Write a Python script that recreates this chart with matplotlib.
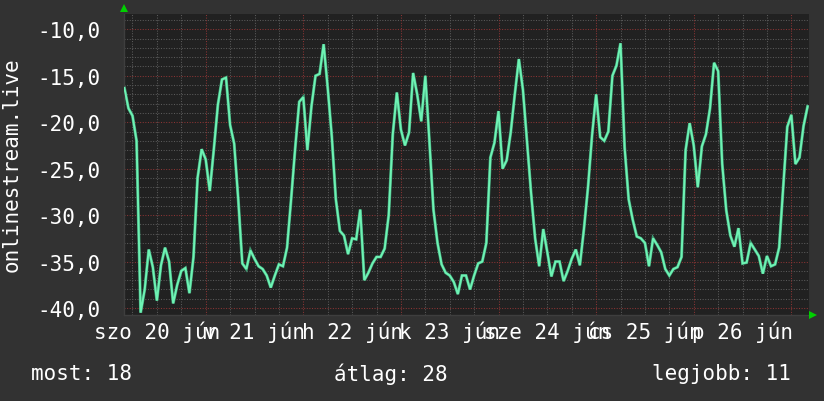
import matplotlib
matplotlib.use("Agg")
import matplotlib.pyplot as plt
import numpy as np
from matplotlib.ticker import MultipleLocator, FuncFormatter
import matplotlib.transforms as mtrans

# hours since 2020-06-20 00:00, hourly samples
hours = list(range(4, 173))
values = [
    -16.3, -18.5, -19.3, -22.0, -40.5, -38.0, -33.7, -35.6, -39.2, -35.4,
    -33.5, -35.0, -39.5, -37.5, -36.0, -35.7, -38.4, -34.5, -26.0, -22.9,
    -24.0, -27.4, -22.9, -18.1, -15.4, -15.2, -20.3, -22.3, -28.3, -35.2,
    -35.8, -33.8, -34.7, -35.5, -35.8, -36.5, -37.8, -36.5, -35.3, -35.5,
    -33.5, -28.3, -22.8, -17.8, -17.3, -23.0, -18.3, -15.0, -14.8, -11.6,
    -16.3, -21.5, -28.3, -31.7, -32.2, -34.2, -32.5, -32.6, -29.4, -37.0,
    -36.2, -35.2, -34.5, -34.5, -33.6, -30.0, -21.3, -16.8, -20.8, -22.5,
    -21.1, -14.7, -17.0, -19.9, -15.0, -22.0, -29.4, -33.0, -35.3, -36.2,
    -36.5, -37.2, -38.5, -36.5, -36.5, -38.0, -36.5, -35.2, -35.0, -33.0,
    -23.8, -22.2, -18.8, -25.0, -24.1, -21.1, -17.0, -13.2, -16.5, -22.0,
    -27.6, -32.5, -35.5, -31.5, -34.0, -36.6, -35.0, -35.0, -37.1, -36.0,
    -34.7, -33.7, -35.4, -31.5, -27.0, -21.4, -17.0, -21.6, -22.0, -21.0,
    -15.0, -13.9, -11.5, -22.7, -28.3, -30.5, -32.3, -32.5, -33.0, -35.5,
    -32.5, -33.2, -34.0, -35.8, -36.5, -35.8, -35.6, -34.5, -23.0, -20.1,
    -22.5, -27.0, -22.6, -21.3, -18.5, -13.6, -14.5, -24.5, -29.5, -32.2,
    -33.4, -31.4, -35.2, -35.1, -33.0, -33.7, -34.4, -36.3, -34.4, -35.5,
    -35.3, -33.5, -27.0, -20.5, -19.2, -24.5, -23.8, -20.4, -18.3,
]

day_labels = ["szo 20 jún", "v 21 jún", "h 22 jún", "k 23 jún",
              "sze 24 jún", "cs 25 jún", "p 26 jún"]
day_label_hours = [12, 36, 60, 84, 108, 132, 156]

ylabel = "onlinestream.live"
legend_texts = ["most: 18", "átlag: 28", "legjobb: 11"]

OUTER = "#323232"
PLOT = "#212121"
MINOR = "#5a5a5a"
MAJOR = "#8a3434"
LINE = "#6ef3b4"
FONT = "DejaVu Sans Mono"
FS = 15

fig = plt.figure(figsize=(8.24, 4.02), dpi=100, facecolor=OUTER)
ax = fig.add_axes([124 / 824, 86 / 402, 685 / 824, 301 / 402])
ax.set_facecolor(PLOT)

ax.set_xlim(3.91, 172.34)
ax.set_ylim(-40.75, -8.35)

# grid
for yv in np.arange(-40, -8, 1):
    major = (yv % 5 == 0)
    ax.axhline(yv, color=MAJOR if major else MINOR, lw=0.75,
               dashes=(1, 1.5), zorder=1)
for xv in np.arange(6, 173, 6):
    major = (xv % 24 == 0)
    ax.axvline(xv, color=MAJOR if major else MINOR, lw=0.75,
               dashes=(1, 1.5), zorder=1)

ax.plot(hours, values, color="#3f9a72", lw=2.2, zorder=2,
        solid_joinstyle="miter")
ax.plot(hours, values, color=LINE, lw=1.4, zorder=3,
        solid_joinstyle="miter")

# axes styling
for s in ["top", "right"]:
    ax.spines[s].set_visible(False)
for s in ["bottom", "left"]:
    ax.spines[s].set_color("#3e3e3e")
    ax.spines[s].set_linewidth(1.0)

ax.yaxis.set_major_locator(MultipleLocator(5))
ax.yaxis.set_major_formatter(FuncFormatter(lambda v, p: f"{v:.1f}".replace(".", ",")))
ax.tick_params(axis="y", length=0, pad=17, labelsize=FS, colors="white")
for t in ax.get_yticklabels():
    t.set_fontfamily(FONT)
ax.set_xticks([])

trans = mtrans.blended_transform_factory(ax.transData, ax.transAxes)
for h, lab in zip(day_label_hours, day_labels):
    ax.text(h, -0.055, lab, transform=trans, ha="center", va="center",
            color="white", fontsize=FS, family=FONT)

fig.text(12 / 824, 1 - 165 / 402, ylabel, rotation=90, ha="center", va="center",
         color="white", fontsize=FS, family=FONT)

fig.text(31 / 824, 1 - 374 / 402, legend_texts[0], ha="left", va="center",
         color="white", fontsize=FS, family=FONT)
fig.text(334 / 824, 1 - 374 / 402, legend_texts[1], ha="left", va="center",
         color="white", fontsize=FS, family=FONT)
fig.text(791 / 824, 1 - 374 / 402, legend_texts[2], ha="right", va="center",
         color="white", fontsize=FS, family=FONT)

# arrows
ax.plot([0], [1 + 6 / 301], marker="^", color="#00d000", markersize=6,
        transform=ax.transAxes, clip_on=False, zorder=5, markeredgewidth=0)
ax.plot([1 + 4 / 685], [0], marker=">", color="#00d000", markersize=6,
        transform=ax.transAxes, clip_on=False, zorder=5, markeredgewidth=0)

fig.savefig("out.png", dpi=100, facecolor=OUTER)
